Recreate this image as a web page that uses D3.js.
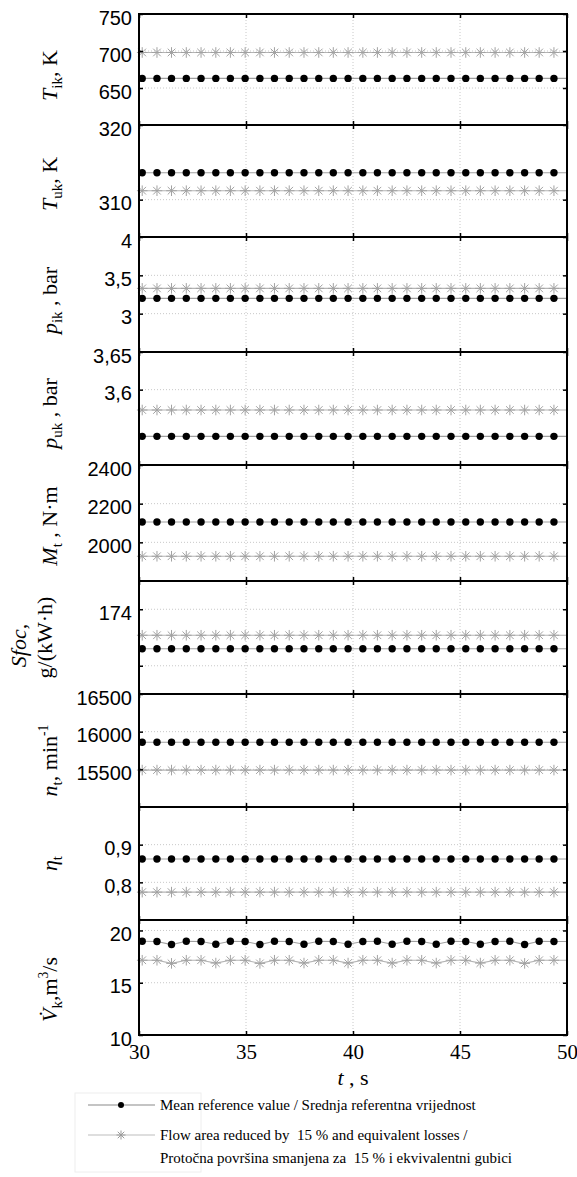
<!DOCTYPE html>
<html>
<head>
<meta charset="utf-8">
<script src="https://cdn.jsdelivr.net/npm/d3@7"></script>
<style>
  body { margin: 0; background: #fff; }
  svg { display: block; }
</style>
</head>
<body>
<svg id="chart" width="577" height="1177"></svg>
<script>
// Sample times (s) at which markers are drawn
const times = [30.15, 30.84, 31.52, 32.21, 32.90, 33.59, 34.27, 34.96, 35.65, 36.33,
               37.02, 37.71, 38.40, 39.08, 39.77, 40.46, 41.14, 41.83, 42.52, 43.21,
               43.89, 44.58, 45.27, 45.95, 46.64, 47.33, 48.02, 48.70, 49.39];

// Turbine inlet temperature T_ik, K
const tikRef = [663, 663, 663, 663, 663, 663, 663, 663, 663, 663, 663, 663, 663, 663, 663,
                663, 663, 663, 663, 663, 663, 663, 663, 663, 663, 663, 663, 663, 663];
const tikRed = [698, 698, 698, 698, 698, 698, 698, 698, 698, 698, 698, 698, 698, 698, 698,
                698, 698, 698, 698, 698, 698, 698, 698, 698, 698, 698, 698, 698, 698];
// Compressor inlet temperature T_uk, K
const tukRef = [313.6, 313.6, 313.6, 313.6, 313.6, 313.6, 313.6, 313.6, 313.6, 313.6,
                313.6, 313.6, 313.6, 313.6, 313.6, 313.6, 313.6, 313.6, 313.6, 313.6,
                313.6, 313.6, 313.6, 313.6, 313.6, 313.6, 313.6, 313.6, 313.6];
const tukRed = [311.2, 311.2, 311.2, 311.2, 311.2, 311.2, 311.2, 311.2, 311.2, 311.2,
                311.2, 311.2, 311.2, 311.2, 311.2, 311.2, 311.2, 311.2, 311.2, 311.2,
                311.2, 311.2, 311.2, 311.2, 311.2, 311.2, 311.2, 311.2, 311.2];
// Turbine inlet pressure p_ik, bar
const pikRef = [3.20, 3.20, 3.20, 3.20, 3.20, 3.20, 3.20, 3.20, 3.20, 3.20,
                3.20, 3.20, 3.20, 3.20, 3.20, 3.20, 3.20, 3.20, 3.20, 3.20,
                3.20, 3.20, 3.20, 3.20, 3.20, 3.20, 3.20, 3.20, 3.20];
const pikRed = [3.33, 3.33, 3.33, 3.33, 3.33, 3.33, 3.33, 3.33, 3.33, 3.33,
                3.33, 3.33, 3.33, 3.33, 3.33, 3.33, 3.33, 3.33, 3.33, 3.33,
                3.33, 3.33, 3.33, 3.33, 3.33, 3.33, 3.33, 3.33, 3.33];
// Compressor outlet pressure p_uk, bar
const pukRef = [3.538, 3.538, 3.538, 3.538, 3.538, 3.538, 3.538, 3.538, 3.538, 3.538,
                3.538, 3.538, 3.538, 3.538, 3.538, 3.538, 3.538, 3.538, 3.538, 3.538,
                3.538, 3.538, 3.538, 3.538, 3.538, 3.538, 3.538, 3.538, 3.538];
const pukRed = [3.573, 3.573, 3.573, 3.573, 3.573, 3.573, 3.573, 3.573, 3.573, 3.573,
                3.573, 3.573, 3.573, 3.573, 3.573, 3.573, 3.573, 3.573, 3.573, 3.573,
                3.573, 3.573, 3.573, 3.573, 3.573, 3.573, 3.573, 3.573, 3.573];
// Turbine torque M_t, N·m
const mtRef = [2105, 2105, 2105, 2105, 2105, 2105, 2105, 2105, 2105, 2105,
               2105, 2105, 2105, 2105, 2105, 2105, 2105, 2105, 2105, 2105,
               2105, 2105, 2105, 2105, 2105, 2105, 2105, 2105, 2105];
const mtRed = [1928, 1928, 1928, 1928, 1928, 1928, 1928, 1928, 1928, 1928,
               1928, 1928, 1928, 1928, 1928, 1928, 1928, 1928, 1928, 1928,
               1928, 1928, 1928, 1928, 1928, 1928, 1928, 1928, 1928];
// Specific fuel oil consumption, g/(kW·h)
const sfocRef = [173.30, 173.30, 173.30, 173.30, 173.30, 173.30, 173.30, 173.30, 173.30, 173.30,
                 173.30, 173.30, 173.30, 173.30, 173.30, 173.30, 173.30, 173.30, 173.30, 173.30,
                 173.30, 173.30, 173.30, 173.30, 173.30, 173.30, 173.30, 173.30, 173.30];
const sfocRed = [173.54, 173.54, 173.54, 173.54, 173.54, 173.54, 173.54, 173.54, 173.54, 173.54,
                 173.54, 173.54, 173.54, 173.54, 173.54, 173.54, 173.54, 173.54, 173.54, 173.54,
                 173.54, 173.54, 173.54, 173.54, 173.54, 173.54, 173.54, 173.54, 173.54];
// Turbocharger speed n_t, min^-1
const ntRef = [15860, 15860, 15860, 15860, 15860, 15860, 15860, 15860, 15860, 15860,
               15860, 15860, 15860, 15860, 15860, 15860, 15860, 15860, 15860, 15860,
               15860, 15860, 15860, 15860, 15860, 15860, 15860, 15860, 15860];
const ntRed = [15490, 15490, 15490, 15490, 15490, 15490, 15490, 15490, 15490, 15490,
               15490, 15490, 15490, 15490, 15490, 15490, 15490, 15490, 15490, 15490,
               15490, 15490, 15490, 15490, 15490, 15490, 15490, 15490, 15490];
// Turbine efficiency η_t
const etaRef = [0.862, 0.862, 0.862, 0.862, 0.862, 0.862, 0.862, 0.862, 0.862, 0.862,
                0.862, 0.862, 0.862, 0.862, 0.862, 0.862, 0.862, 0.862, 0.862, 0.862,
                0.862, 0.862, 0.862, 0.862, 0.862, 0.862, 0.862, 0.862, 0.862];
const etaRed = [0.774, 0.774, 0.774, 0.774, 0.774, 0.774, 0.774, 0.774, 0.774, 0.774,
                0.774, 0.774, 0.774, 0.774, 0.774, 0.774, 0.774, 0.774, 0.774, 0.774,
                0.774, 0.774, 0.774, 0.774, 0.774, 0.774, 0.774, 0.774, 0.774];
// Compressor volume flow V_k, m^3/s
const vkRef = [18.97, 18.95, 18.65, 18.97, 18.95, 18.68, 18.97, 18.95, 18.65, 18.97,
               18.95, 18.68, 18.97, 18.95, 18.68, 18.95, 18.97, 18.68, 18.97, 18.95,
               18.68, 18.97, 18.95, 18.68, 18.95, 18.97, 18.65, 18.97, 18.95];
const vkRed = [17.15, 17.15, 16.85, 17.15, 17.15, 16.88, 17.15, 17.15, 16.85, 17.15,
               17.15, 16.88, 17.15, 17.15, 16.88, 17.15, 17.15, 16.88, 17.15, 17.15,
               16.88, 17.15, 17.15, 16.88, 17.15, 17.15, 16.85, 17.15, 17.15];

// Axis ticks and their labels
const xTicks = [30, 35, 40, 45, 50];
const xTickLabels = ["30", "35", "40", "45", "50"];
const tikTicks = [650, 700, 750];        const tikLabels = ["650", "700", "750"];
const tukTicks = [310, 320];             const tukLabels = ["310", "320"];
const pikTicks = [3, 3.5, 4];            const pikLabels = ["3", "3,5", "4"];
const pukTicks = [3.6, 3.65];            const pukLabels = ["3,6", "3,65"];
const mtTicks = [2000, 2200, 2400];      const mtLabels = ["2000", "2200", "2400"];
const sfocTicks = [173, 174];            const sfocLabels = ["", "174"];
const ntTicks = [15500, 16000, 16500];   const ntLabels = ["15500", "16000", "16500"];
const etaTicks = [0.8, 0.9];             const etaLabels = ["0,8", "0,9"];
const vkTicks = [10, 15, 20];            const vkLabels = ["10", "15", "20"];

const legendLabels = [
  "Mean reference value / Srednja referentna vrijednost",
  "Flow area reduced by  15 % and equivalent losses /",
  "Protočna površina smanjena za  15 % i ekvivalentni gubici"
];

// ---- layout ----
const svg = d3.select("#chart");
const left = 139, right = 567;
const bands = [14, 125, 237, 352, 465, 581, 694, 807, 920, 1035];
const sansFont = "'Liberation Sans', Arial, Helvetica, sans-serif";
const serifFont = "'Liberation Serif', 'Times New Roman', serif";

const x = d3.scaleLinear().domain([30, 50]).range([left, right]);

const panels = [
  { ref: tikRef, red: tikRed, domain: [600, 750], ticks: tikTicks, labels: tikLabels,
    title: [{ t: "T", i: true }, { t: "ik", sub: true }, { t: ", K" }], ty: 6 },
  { ref: tukRef, red: tukRed, domain: [305, 320], ticks: tukTicks, labels: tukLabels,
    title: [{ t: "T", i: true }, { t: "uk", sub: true }, { t: ", K" }], ty: 3 },
  { ref: pikRef, red: pikRed, domain: [2.5, 4], ticks: pikTicks, labels: pikLabels,
    title: [{ t: "p", i: true }, { t: "ik", sub: true }, { t: " , bar" }], ty: 6 },
  { ref: pukRef, red: pukRed, domain: [3.5, 3.65], ticks: pukTicks, labels: pukLabels,
    title: [{ t: "p", i: true }, { t: "uk", sub: true }, { t: " , bar" }], ty: 5 },
  { ref: mtRef, red: mtRed, domain: [1800, 2400], ticks: mtTicks, labels: mtLabels,
    title: [{ t: "M", i: true }, { t: "t", sub: true }, { t: " , N·m" }], ty: 3 },
  { ref: sfocRef, red: sfocRed, domain: [172.5, 174.5], ticks: sfocTicks, labels: sfocLabels,
    title: null, ty: 0 },
  { ref: ntRef, red: ntRed, domain: [15000, 16500], ticks: ntTicks, labels: ntLabels,
    title: [{ t: "n", i: true }, { t: "t", sub: true }, { t: ", min" }, { t: "-1", sup: true }], ty: 10 },
  { ref: etaRef, red: etaRed, domain: [0.7, 1.0], ticks: etaTicks, labels: etaLabels,
    title: [{ t: "η", i: true }, { t: "t", sub: true }], ty: 0 },
  { ref: vkRef, red: vkRed, domain: [10, 21], ticks: vkTicks, labels: vkLabels,
    title: [{ t: "V\u0307", i: true }, { t: "k", sub: true }, { t: ",m" }, { t: "3", sup: true }, { t: "/s" }], ty: 12 }
];

// MATLAB-style asterisk marker: plus + cross
function asterisk(r) {
  const d = r * 0.72;
  return `M${-r},0L${r},0M0,${-r}L0,${r}M${-d},${-d}L${d},${d}M${-d},${d}L${d},${-d}`;
}

// Rotated y-axis title made of styled runs
function drawTitle(sel, parts, bx, cy, size) {
  const t = sel.append("text")
    .attr("transform", `translate(${bx},${cy}) rotate(-90)`)
    .attr("text-anchor", "middle")
    .style("font-family", serifFont)
    .style("font-size", size + "px")
    .style("white-space", "pre")
    .attr("fill", "#000");
  let shift = 0;
  parts.forEach(p => {
    const s = t.append("tspan").text(p.t);
    let target = 0;
    if (p.sub) { s.style("font-size", (size * 0.68) + "px"); target = size * 0.22; }
    if (p.sup) { s.style("font-size", (size * 0.62) + "px"); target = -size * 0.42; }
    if (p.i) s.style("font-style", "italic");
    s.attr("dy", target - shift);
    shift = target;
  });
}

panels.forEach((p, k) => {
  const top = bands[k], bottom = bands[k + 1];
  const y = d3.scaleLinear().domain(p.domain).range([bottom, top]);
  const g = svg.append("g");

  // dotted grid
  g.selectAll(".gy").data(p.ticks.filter(v => y(v) > top + 1 && y(v) < bottom - 1)).join("line")
    .attr("x1", left).attr("x2", right)
    .attr("y1", d => y(d)).attr("y2", d => y(d))
    .attr("stroke", "#c8c8c8").attr("stroke-width", 1).attr("stroke-dasharray", "1,2");
  g.selectAll(".gx").data(xTicks.filter(v => v > 30 && v < 50)).join("line")
    .attr("x1", d => x(d)).attr("x2", d => x(d))
    .attr("y1", top).attr("y2", bottom)
    .attr("stroke", "#c8c8c8").attr("stroke-width", 1).attr("stroke-dasharray", "1,2");

  // connecting lines, held to the plot edges
  const line = d3.line().x(d => x(d[0])).y(d => y(d[1]));
  const span = vals => [[30, vals[0]], ...times.map((t, j) => [t, vals[j]]), [50, vals[vals.length - 1]]];
  g.append("path").attr("d", line(span(p.red)))
    .attr("fill", "none").attr("stroke", "#b4b4b4").attr("stroke-width", 1.1);
  g.append("path").attr("d", line(span(p.ref)))
    .attr("fill", "none").attr("stroke", "#a0a0a0").attr("stroke-width", 1.1);

  // markers
  g.selectAll(".star").data(times.map((t, j) => [t, p.red[j]])).join("path")
    .attr("d", asterisk(5.3))
    .attr("transform", d => `translate(${x(d[0])},${y(d[1])})`)
    .attr("fill", "none").attr("stroke", "#a2a2a2").attr("stroke-width", 1);
  g.selectAll(".dot").data(times.map((t, j) => [t, p.ref[j]])).join("circle")
    .attr("cx", d => x(d[0])).attr("cy", d => y(d[1])).attr("r", 3.7)
    .attr("fill", "#000");

  // y axes (ticks pointing inward)
  const ya = g.append("g").attr("transform", `translate(${left},0)`)
    .call(d3.axisLeft(y).tickValues(p.ticks).tickFormat((d, j) => p.labels[j]).tickSize(-4).tickPadding(7));
  ya.selectAll("text").style("font-family", sansFont).style("font-size", "20px")
    .attr("fill", "#000").attr("dy", "0.5em");
  const yr = g.append("g").attr("transform", `translate(${right},0)`)
    .call(d3.axisRight(y).tickValues(p.ticks).tickFormat("").tickSize(-4));
  // x ticks on top and bottom edges
  const xt = g.append("g").attr("transform", `translate(0,${top})`)
    .call(d3.axisTop(x).tickValues(xTicks).tickFormat("").tickSize(-4));
  const xb = g.append("g").attr("transform", `translate(0,${bottom})`)
    .call(d3.axisBottom(x).tickValues(xTicks).tickFormat((d, j) => k === panels.length - 1 ? xTickLabels[j] : "")
      .tickSize(-4).tickPadding(9));
  xb.selectAll("text").style("font-family", serifFont).style("font-size", "21px").attr("fill", "#000");
  [ya, yr, xt, xb].forEach(a => {
    a.select(".domain").remove();
    a.selectAll(".tick line").attr("stroke", "#000").attr("stroke-width", 1.5);
  });

  // frame
  g.append("rect").attr("x", left).attr("y", top)
    .attr("width", right - left).attr("height", bottom - top)
    .attr("fill", "none").attr("stroke", "#000").attr("stroke-width", 2);

  // y-axis title
  const cy = (top + bottom) / 2 + p.ty;
  if (p.title) {
    drawTitle(svg, p.title, 57, cy, 22);
  } else {
    drawTitle(svg, [{ t: "Sfoc,", i: true }], 26, cy + 8, 22);
    drawTitle(svg, [{ t: "g/(kW·h)" }], 52, cy, 22);
  }
});

// x-axis title
svg.append("text")
  .attr("x", 353).attr("y", 1085)
  .attr("text-anchor", "middle")
  .style("font-family", serifFont).style("font-size", "22px")
  .style("white-space", "pre")
  .call(t => {
    t.append("tspan").style("font-style", "italic").text("t");
    t.append("tspan").text(" , s");
  });

// legend
const lg = svg.append("g");
lg.append("rect").attr("x", 75).attr("y", 1093).attr("width", 126).attr("height", 79)
  .attr("fill", "none").attr("stroke", "#eeeeee").attr("stroke-width", 1);
const rows = [1105, 1135, 1158];
lg.append("line").attr("x1", 88).attr("x2", 155).attr("y1", rows[0]).attr("y2", rows[0])
  .attr("stroke", "#8a8a8a").attr("stroke-width", 1.1);
lg.append("circle").attr("cx", 121).attr("cy", rows[0]).attr("r", 3).attr("fill", "#000");
lg.append("line").attr("x1", 88).attr("x2", 155).attr("y1", rows[1]).attr("y2", rows[1])
  .attr("stroke", "#bdbdbd").attr("stroke-width", 1.1);
lg.append("path").attr("d", asterisk(4.5)).attr("transform", `translate(121,${rows[1]})`)
  .attr("fill", "none").attr("stroke", "#9a9a9a").attr("stroke-width", 1);
lg.selectAll(".lt").data(legendLabels).join("text")
  .attr("x", 160).attr("y", (d, j) => rows[j] + 5)
  .style("font-family", serifFont).style("font-size", "15px")
  .style("white-space", "pre")
  .attr("fill", "#000")
  .text(d => d);
</script>
</body>
</html>
